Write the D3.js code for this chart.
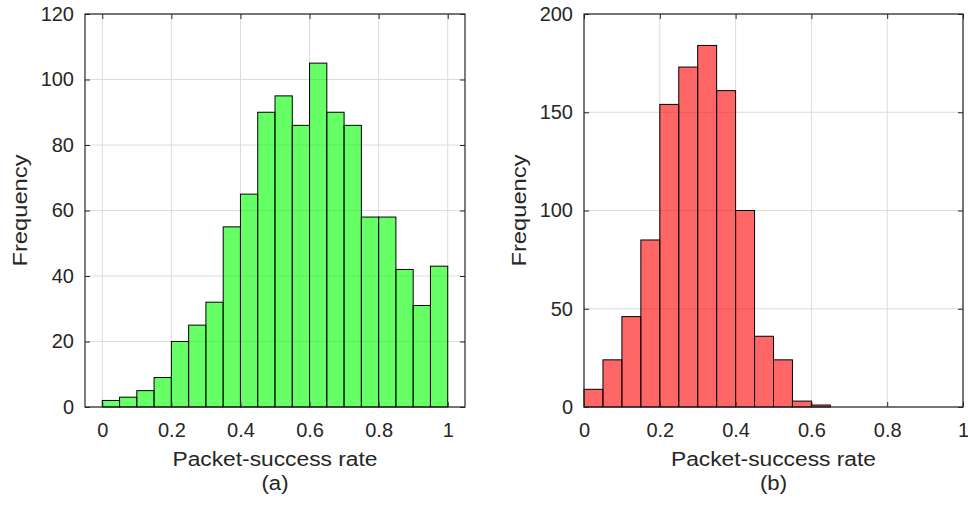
<!DOCTYPE html>
<html>
<head>
<meta charset="utf-8">
<script src="https://cdn.jsdelivr.net/npm/d3@7"></script>
<style>
  html, body { margin: 0; padding: 0; background: #fff; }
  svg { display: block; }
  text { font-family: "Liberation Sans", Arial, Helvetica, sans-serif; fill: #262626; }
</style>
</head>
<body>
<svg id="chart" width="968" height="508"></svg>
<script>
// Histogram bin edges (bin width 0.05 from 0 to 1)
const binEdges = [0, 0.05, 0.1, 0.15, 0.2, 0.25, 0.3, 0.35, 0.4, 0.45, 0.5,
                  0.55, 0.6, 0.65, 0.7, 0.75, 0.8, 0.85, 0.9, 0.95, 1];

// Counts per bin for panel (a)
const countsA = [2, 3, 5, 9, 20, 25, 32, 55, 65, 90, 95, 86, 105, 90, 86, 58, 58, 42, 31, 43];
// Counts per bin for panel (b)
const countsB = [9, 24, 46, 85, 154, 173, 184, 161, 100, 36, 24, 3, 1, 0, 0, 0, 0, 0, 0, 0];

// Axis tick values
const xTicks = [0, 0.2, 0.4, 0.6, 0.8, 1];
const yTicksA = [0, 20, 40, 60, 80, 100, 120];
const yTicksB = [0, 50, 100, 150, 200];

const xLabel = "Packet-success rate";
const yLabel = "Frequency";

const svg = d3.select("#chart");
const axisColor = "#262626";
const gridColor = "#dcdcdc";

function drawPanel(opts) {
  const { left, top, width, height, xDomain, yDomain, yTicks, counts, fill, caption } = opts;
  const g = svg.append("g").attr("transform", `translate(${left},${top})`);

  const x = d3.scaleLinear().domain(xDomain).range([0, width]);
  const y = d3.scaleLinear().domain(yDomain).range([height, 0]);

  // grid lines
  g.append("g")
    .selectAll("line.vgrid").data(xTicks).join("line")
    .attr("x1", d => x(d)).attr("x2", d => x(d))
    .attr("y1", 0).attr("y2", height)
    .attr("stroke", gridColor).attr("stroke-width", 1);
  g.append("g")
    .selectAll("line.hgrid").data(yTicks).join("line")
    .attr("x1", 0).attr("x2", width)
    .attr("y1", d => y(d)).attr("y2", d => y(d))
    .attr("stroke", gridColor).attr("stroke-width", 1);

  // bars
  const bins = counts.map((c, i) => ({ x0: binEdges[i], x1: binEdges[i + 1], n: c }));
  g.append("g")
    .selectAll("rect").data(bins).join("rect")
    .attr("x", d => x(d.x0))
    .attr("y", d => y(d.n))
    .attr("width", d => x(d.x1) - x(d.x0))
    .attr("height", d => y(0) - y(d.n))
    .attr("fill", fill)
    .attr("fill-opacity", 0.6)
    .attr("stroke", "#000")
    .attr("stroke-width", 1);

  const fmt = d => String(d);

  // bottom axis with labels
  const ax = g.append("g").attr("transform", `translate(0,${height})`)
    .call(d3.axisBottom(x).tickValues(xTicks).tickFormat(fmt).tickSizeInner(-5).tickSizeOuter(0).tickPadding(16));
  // left axis with labels
  const ay = g.append("g")
    .call(d3.axisLeft(y).tickValues(yTicks).tickFormat(fmt).tickSizeInner(-5).tickSizeOuter(0).tickPadding(11));
  // top and right axes: ticks only
  const at = g.append("g")
    .call(d3.axisTop(x).tickValues(xTicks).tickFormat("").tickSizeInner(-5).tickSizeOuter(0));
  const ar = g.append("g").attr("transform", `translate(${width},0)`)
    .call(d3.axisRight(y).tickValues(yTicks).tickFormat("").tickSizeInner(-5).tickSizeOuter(0));

  [ax, ay, at, ar].forEach(a => {
    a.select(".domain").remove();
    a.selectAll("line").attr("stroke", axisColor);
    a.selectAll("text").attr("fill", axisColor)
      .style("font-family", '"Liberation Sans", Arial, sans-serif')
      .style("font-size", "20px");
  });

  // box
  g.append("rect")
    .attr("x", 0).attr("y", 0).attr("width", width).attr("height", height)
    .attr("fill", "none").attr("stroke", axisColor).attr("stroke-width", 1.2);

  // axis titles
  g.append("text")
    .attr("x", width / 2).attr("y", height + 59)
    .attr("text-anchor", "middle")
    .attr("textLength", 205).attr("lengthAdjust", "spacingAndGlyphs")
    .style("font-size", "20px")
    .text(xLabel);
  g.append("text")
    .attr("x", width / 2).attr("y", height + 83)
    .attr("text-anchor", "middle")
    .attr("textLength", 27).attr("lengthAdjust", "spacingAndGlyphs")
    .style("font-size", "20px")
    .text(caption);
  g.append("text")
    .attr("transform", `translate(${-58},${height / 2}) rotate(-90)`)
    .attr("text-anchor", "middle")
    .attr("textLength", 112).attr("lengthAdjust", "spacingAndGlyphs")
    .style("font-size", "20px")
    .text(yLabel);
}

drawPanel({
  left: 85, top: 14, width: 380, height: 393,
  xDomain: [-0.05, 1.05], yDomain: [0, 120], yTicks: yTicksA,
  counts: countsA, fill: "#00ff00", caption: "(a)"
});

drawPanel({
  left: 584, top: 14, width: 379, height: 393,
  xDomain: [0, 1], yDomain: [0, 200], yTicks: yTicksB,
  counts: countsB, fill: "#ff0000", caption: "(b)"
});
</script>
</body>
</html>
